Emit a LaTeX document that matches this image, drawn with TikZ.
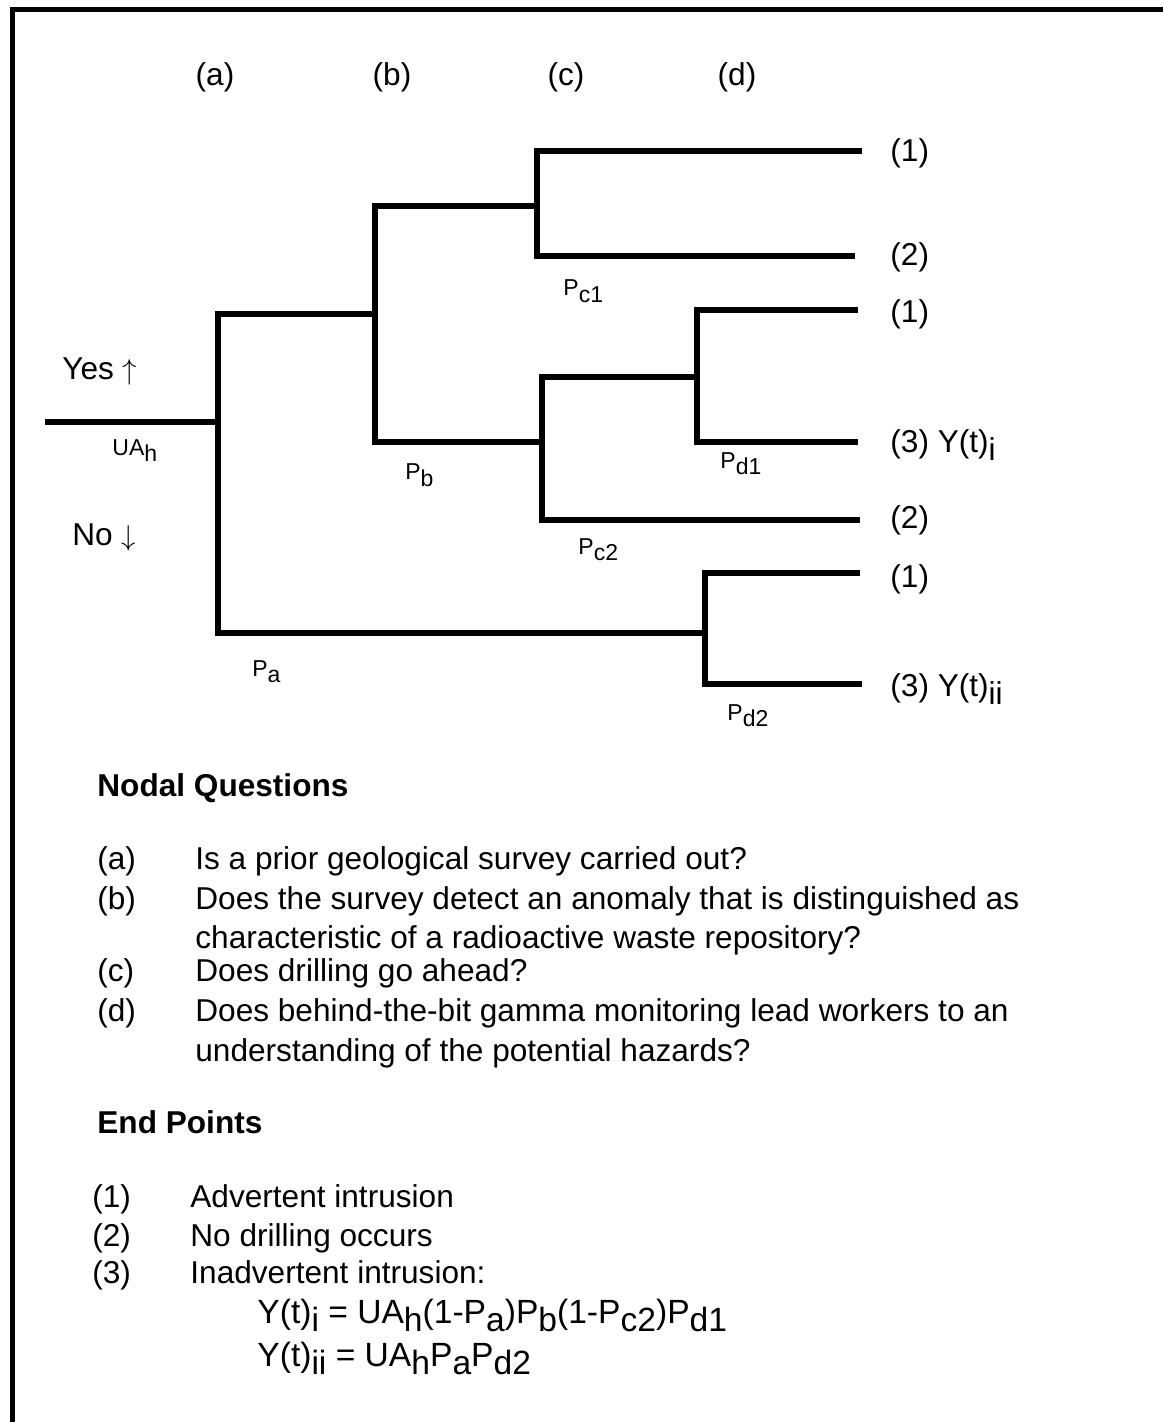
\documentclass[tikz,border=0pt]{standalone}
\usepackage{fontspec}
\setmainfont{Liberation Sans}
\usetikzlibrary{positioning}
\newcommand{\mainsize}{\fontsize{15.8}{19}\selectfont}
\newcommand{\probsize}{\fontsize{11.5}{13}\selectfont}
\newcommand{\dn}[1]{\raisebox{-0.55ex}{#1}}
\newcommand{\fdn}[1]{\raisebox{-0.5ex}{#1}}

\begin{document}
\begin{tikzpicture}[
            x=0.5pt, y=-0.5pt,
            branch/.style={line width=2.9pt},
            lbl/.style={font=\mainsize, inner sep=0pt, anchor=base west},
            prob/.style={font=\probsize, inner sep=0pt, anchor=base west},
            head/.style={font=\mainsize\bfseries, inner sep=0pt, anchor=base west},
            formula/.style={font=\fontsize{16.8}{19}\selectfont, inner sep=0pt, anchor=base west}
        ]
        \useasboundingbox (0,0) rectangle (1163,1422);
        \draw[line width=2.5pt] (12,1422) -- (12,10) -- (1163,10);

        % --- event tree ---
        \coordinate (root) at (45,422);
        \coordinate (na) at (218,422);
        \coordinate (nb) at (375,314);
        \coordinate (nc1) at (537,206);
        \coordinate (nc2) at (542,442);
        \coordinate (nd1) at (697,377);
        \coordinate (nd2) at (705,633);
        \coordinate (e1) at (862,151);
        \coordinate (e2) at (855,256);
        \coordinate (e3) at (858,310);
        \coordinate (e4) at (858,442);
        \coordinate (e5) at (860,520);
        \coordinate (e6) at (860,573);
        \coordinate (e7) at (862,684);
        \draw[branch] (root)--(na);
        \foreach \p/\u/\d in {na/nb/nd2, nb/nc1/nc2, nc1/e1/e2, nc2/nd1/e5, nd1/e3/e4, nd2/e6/e7}
            \draw[branch] (\u) -- (\p |- \u) -- (\p |- \d) -- (\d);

        \foreach \x/\t in {215/a, 392/b, 566/c, 737/d}
            \node[font=\mainsize, inner sep=0pt, anchor=base] (h\t) at (\x,86) {(\t)};

        \node[lbl] (yes) at (62,380) {Yes $\uparrow$};
        \node[lbl] (no) at (72,545) {No $\downarrow$};
        \node[prob] (pua) at (112,455) {UA\dn{h}};
        \node[prob] (pb) at (405,480) {P\dn{b}};
        \node[prob] (pc1) at (563,296) {P\dn{c1}};
        \node[prob] (pc2) at (578,554) {P\dn{c2}};
        \node[prob] (pd1) at (720,468) {P\dn{d1}};
        \node[prob] (pd2) at (727,720) {P\dn{d2}};
        \node[prob] (pa) at (252,676) {P\dn{a}};

        % --- end points of the tree ---
        \node[lbl] (l1) at (890,162) {(1)};
        \node[lbl] (l2) at (890,266) {(2)};
        \node[lbl] (l3) at (890,323) {(1)};
        \node[lbl] (l4) at (890,452) {(3) Y(t)\fdn{i}};
        \node[lbl] (l5) at (890,528) {(2)};
        \node[lbl] (l6) at (890,587) {(1)};
        \node[lbl] (l7) at (890,696) {(3) Y(t)\fdn{ii}};

        % --- nodal questions ---
        \node[head] (qhead) at (97,796) {Nodal Questions};
        \node[lbl] (qa) at (97,869) {(a)};
        \node[lbl] (qat) at (195,869) {Is a prior geological survey carried out?};
        \node[lbl] (qb) at (97,909) {(b)};
        \node[lbl] (qbt) at (195,909) {Does the survey detect an anomaly that is distinguished as};
        \node[lbl] (qbu) at (195,948) {characteristic of a radioactive waste repository?};
        \node[lbl] (qc) at (97,981) {(c)};
        \node[lbl] (qct) at (195,981) {Does drilling go ahead?};
        \node[lbl] (qd) at (97,1021) {(d)};
        \node[lbl] (qdt) at (195,1021) {Does behind-the-bit gamma monitoring lead workers to an};
        \node[lbl] (qdu) at (195,1061) {understanding of the potential hazards?};

        % --- end points ---
        \node[head] (ehead) at (97,1133) {End Points};
        \node[lbl] (ea) at (92,1207) {(1)};
        \node[lbl] (eat) at (190,1207) {Advertent intrusion};
        \node[lbl] (eb) at (92,1246) {(2)};
        \node[lbl] (ebt) at (190,1246) {No drilling occurs};
        \node[lbl] (ec) at (92,1283) {(3)};
        \node[lbl] (ect) at (190,1283) {Inadvertent intrusion:};
        \node[formula] (yi) at (257,1323) {Y(t)\fdn{i} = UA\fdn{h}(1-P\fdn{a})P\fdn{b}(1-P\fdn{c2})P\fdn{d1}};
        \node[formula] (yii) at (257,1366) {Y(t)\fdn{ii} = UA\fdn{h}P\fdn{a}P\fdn{d2}};

        \end{tikzpicture}
\end{document}
